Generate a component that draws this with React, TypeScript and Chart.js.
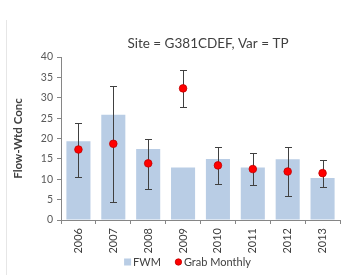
import React, { useEffect, useRef } from "react";
import { Chart, registerables } from "chart.js";

Chart.register(...registerables);

const years = ["2006", "2007", "2008", "2009", "2010", "2011", "2012", "2013"];
const fwm = [19.3, 25.8, 17.4, 12.9, 15.0, 12.9, 14.9, 10.3];
const grabMonthly = [17.3, 18.7, 13.9, 32.3, 13.4, 12.5, 11.9, 11.5];
const grabLow = [10.5, 4.4, 7.7, 27.7, 8.9, 8.6, 6.0, 8.1];
const grabHigh = [23.9, 32.9, 20.0, 36.8, 17.8, 16.4, 17.8, 14.8];
const yMin = 0;
const yMax = 40;
const yStep = 5;
const titleText = "Site = G381CDEF, Var = TP";
const yAxisTitle = "Flow-Wtd Conc";
const seriesNames = ["FWM", "Grab Monthly"];

const FONT = "Lato, 'Open Sans', sans-serif";
const TEXT = "#404040";
const AXIS = "#868686";
const BAR = "#B9CDE5";
const POINT = "#FF0000";
const POINT_BORDER = "#C00000";

const decorPlugin = {
  id: "decor",
  beforeDraw(chart: any) {
    const ctx = chart.ctx;
    ctx.save();
    ctx.strokeStyle = "#E6E6E6";
    ctx.lineWidth = 1;
    ctx.beginPath();
    ctx.moveTo(6.5, 20);
    ctx.lineTo(6.5, chart.height);
    ctx.stroke();
    ctx.restore();
  },
  afterDatasetDraw(chart: any, args: any) {
    if (args.meta.type !== "bar") return;
    const ctx = chart.ctx;
    const xs = chart.scales.x;
    const ys = chart.scales.y;
    ctx.save();
    ctx.strokeStyle = "#404040";
    ctx.lineWidth = 1;
    for (let i = 0; i < grabLow.length; i++) {
      const x = Math.round(xs.getPixelForValue(i)) + 0.5;
      const yl = Math.round(ys.getPixelForValue(grabLow[i])) + 0.5;
      const yh = Math.round(ys.getPixelForValue(grabHigh[i])) + 0.5;
      ctx.beginPath();
      ctx.moveTo(x, yl);
      ctx.lineTo(x, yh);
      ctx.moveTo(x - 3.5, yl);
      ctx.lineTo(x + 3.5, yl);
      ctx.moveTo(x - 3.5, yh);
      ctx.lineTo(x + 3.5, yh);
      ctx.stroke();
    }
    ctx.restore();
  },
  afterDraw(chart: any) {
    const ctx = chart.ctx;
    ctx.save();
    // title
    ctx.fillStyle = TEXT;
    ctx.font = `13.5px ${FONT}`;
    ctx.textAlign = "center";
    ctx.textBaseline = "middle";
    ctx.fillText(titleText, 208, 44);
    // legend
    ctx.font = `11px ${FONT}`;
    ctx.textAlign = "left";
    const w0 = ctx.measureText(seriesNames[0]).width;
    const w1 = ctx.measureText(seriesNames[1]).width;
    const total = 7 + 2 + w0 + 14 + 7 + 2 + w1;
    let x = 187.5 - total / 2;
    const y = 262;
    ctx.fillStyle = BAR;
    ctx.fillRect(x, y - 3.5, 7, 7);
    x += 9;
    ctx.fillStyle = TEXT;
    ctx.fillText(seriesNames[0], x, y);
    x += w0 + 14;
    ctx.beginPath();
    ctx.arc(x + 3.5, y, 3.2, 0, Math.PI * 2);
    ctx.fillStyle = POINT;
    ctx.fill();
    ctx.strokeStyle = POINT_BORDER;
    ctx.lineWidth = 0.8;
    ctx.stroke();
    x += 9;
    ctx.fillStyle = TEXT;
    ctx.fillText(seriesNames[1], x, y);
    ctx.restore();
  },
};

export default function App() {
  const ref = useRef<HTMLCanvasElement | null>(null);
  useEffect(() => {
    if (!ref.current) return;
    const chart = new Chart(ref.current, {
      type: "bar",
      data: {
        labels: years,
        datasets: [
          {
            type: "bar",
            label: seriesNames[0],
            data: fwm,
            backgroundColor: BAR,
            borderWidth: 0,
            barPercentage: 0.69,
            categoryPercentage: 1,
            order: 1,
          },
          {
            type: "line",
            label: seriesNames[1],
            data: grabMonthly,
            showLine: false,
            pointRadius: 3.8,
            pointBackgroundColor: POINT,
            pointBorderColor: POINT_BORDER,
            pointBorderWidth: 0.8,
            order: 0,
          } as any,
        ],
      },
      options: {
        animation: false,
        responsive: false,
        layout: { padding: { left: 7, right: 24, top: 57, bottom: 20 } },
        plugins: {
          legend: { display: false },
          title: { display: false },
          tooltip: { enabled: false },
        },
        scales: {
          x: {
            grid: {
              display: true,
              drawOnChartArea: false,
              drawTicks: true,
              tickLength: 4,
              color: AXIS,
              offset: true,
            },
            border: { display: true, color: AXIS },
            ticks: {
              minRotation: 90,
              maxRotation: 90,
              padding: 4,
              color: TEXT,
              font: { family: FONT, size: 11 },
            },
            afterFit: (s: any) => {
              s.height = 35;
            },
          },
          y: {
            min: yMin,
            max: yMax,
            ticks: {
              stepSize: yStep,
              padding: 4,
              color: "#595959",
              font: { family: FONT, size: 10.5 },
            },
            grid: {
              drawOnChartArea: false,
              drawTicks: true,
              tickLength: 4,
              color: AXIS,
            },
            border: { display: true, color: AXIS },
            title: {
              display: true,
              text: yAxisTitle,
              color: TEXT,
              padding: { top: 4, bottom: 0 },
              font: { family: FONT, size: 11.5, weight: "bold" },
            },
            afterFit: (s: any) => {
              s.width = 54;
            },
          },
        },
      } as any,
      plugins: [decorPlugin],
    });
    return () => chart.destroy();
  }, []);
  return (
    <div style={{ position: "fixed", left: 0, top: 0, width: 364, height: 275, background: "#fff" }}>
      <canvas ref={ref} width={364} height={275} style={{ display: "block" }} />
    </div>
  );
}
